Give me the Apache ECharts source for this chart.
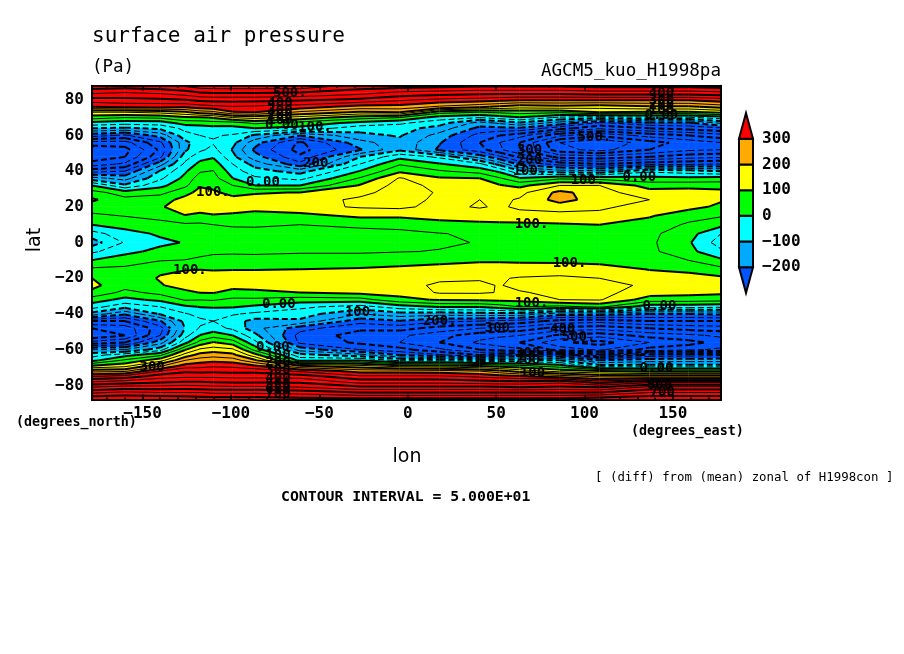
<!DOCTYPE html>
<html><head><meta charset="utf-8">
<style>html,body{margin:0;padding:0;background:#fff}#c{width:904px;height:654px}</style>
<script src="https://cdn.jsdelivr.net/npm/echarts@6/dist/echarts.min.js"></script>
</head><body><div id="c"></div>
<script>
const lons=[-178.6,-160,-140,-126,-117.5,-110,-99,-86.5,-61,-27,-4.5,18,40.7,52,63.3,86,108.5,136.7,159,177.2];
const lats=[87.86,84,80,76,73,70,67,64,60,56,52,48,44,40,36,32,28,24,20,15,10,5,0,-5,-10,-15,-20,-24,-28,-32,-36,-40,-44,-48,-52,-56,-60,-63,-66,-69,-72,-75,-78,-81,-84,-87.86];
const c00=[535,460,380,300,150,70,-15,-100,-230,-370,-440,-430,-380,-270,-130,0,70,108,75,40,0,-70,-125,
 -60,2,60,100,112,90,25,-30,-120,-300,-400,-450,-330,-150,-70,-15,100,230,350,450,550,640,750];
const c01=[530,450,385,315,150,50,-30,-110,-260,-370,-420,-400,-340,-250,-170,-90,25,65,75,52,20,-20,-45,
 -15,30,60,65,70,35,-15,-85,-190,-300,-380,-400,-300,-150,-20,60,130,240,370,470,570,660,750];
const c02=[540,460,390,315,165,60,-25,-90,-180,-260,-290,-260,-170,-95,-60,-15,35,80,95,70,30,8,-12,
 15,48,90,105,95,65,12,-50,-95,-205,-270,-250,-170,-70,40,130,240,350,430,490,570,650,750];
const c03=[560,480,400,310,190,90,20,-35,-70,-115,-110,-70,-40,-8,15,38,85,115,125,98,42,15,3,
 20,52,95,135,125,85,55,-10,-55,-85,-100,-70,-15,95,170,250,320,390,440,500,575,650,740];
const c04=[580,500,415,325,225,90,25,-25,-50,-70,-60,-20,15,45,75,95,115,135,130,85,42,30,25,
 35,60,98,135,125,102,52,2,-35,-60,-45,2,70,160,220,275,330,385,440,500,570,650,730];
const c05=[585,505,420,335,235,105,30,-20,-45,-55,-35,-5,25,52,70,88,108,135,130,95,50,38,35,
 42,65,95,135,125,103,55,5,-30,-50,-30,30,105,175,230,285,340,390,440,495,565,640,730];
const c06=[585,505,420,345,295,150,30,-20,-55,-85,-105,-85,-50,-25,0,50,85,115,125,90,52,44,42,
 45,62,98,125,115,85,40,5,-45,-75,-60,0,75,160,215,275,335,385,435,490,560,640,730];
const c07=[585,505,420,340,300,170,60,0,-110,-180,-210,-180,-120,-80,-40,0,95,120,115,85,52,45,42,
 45,60,98,125,115,90,40,-10,-60,-120,-130,-85,-35,35,120,210,305,385,435,490,560,640,730];
const c08=[590,500,410,325,240,130,30,-15,-200,-310,-320,-290,-235,-120,-65,0,102,125,135,85,50,44,42,
 47,62,100,130,135,100,25,-40,-75,-110,-230,-270,-260,-170,-80,-15,200,340,430,490,550,630,720];
const c09=[530,470,390,280,190,70,-15,-80,-115,-170,-205,-100,-50,2,55,105,135,160,155,110,55,42,40,
 45,70,105,125,135,115,30,-70,-150,-230,-290,-320,-310,-250,-130,0,160,280,360,430,510,600,720];
const c10=[530,440,360,280,200,50,-40,-80,-95,-115,-110,-15,45,90,155,170,175,170,160,110,60,42,40,
 48,80,110,135,140,120,85,-25,-120,-205,-280,-340,-350,-280,-200,-60,120,280,360,430,510,600,720];
const c11=[520,430,340,240,70,-25,-80,-120,-170,-195,-210,-60,5,55,105,135,145,140,135,115,85,48,44,
 52,85,120,145,155,155,105,5,-130,-240,-320,-380,-400,-340,-240,-60,110,270,360,430,510,600,720];
const c12=[510,420,330,210,50,-50,-170,-215,-270,-300,-280,-170,-40,30,100,125,135,150,155,120,90,58,52,
 62,95,120,145,160,155,110,5,-120,-250,-350,-430,-460,-400,-300,-90,90,250,340,420,510,600,720];
const c12b=[510,420,320,190,60,-25,-140,-215,-300,-350,-340,-240,-120,-10,55,105,138,140,142,125,90,58,52,
 62,95,118,145,147,148,112,25,-120,-260,-360,-440,-480,-420,-260,-85,75,215,325,415,505,600,720];
const c13=[510,420,310,170,70,-5,-110,-210,-330,-400,-400,-310,-215,-90,5,85,135,155,160,130,90,60,55,
 65,95,115,155,165,145,115,50,-120,-270,-370,-450,-500,-440,-230,-80,60,180,310,410,500,600,720];
const c14=[510,420,310,180,60,-60,-170,-280,-440,-550,-530,-420,-270,-130,40,150,215,220,175,130,95,75,70,
 75,90,125,160,170,165,150,35,-180,-320,-420,-510,-590,-520,-250,-100,20,130,280,430,510,600,720];
const c15=[520,430,310,170,100,-80,-260,-340,-490,-600,-570,-430,-300,-140,30,150,170,175,160,135,100,75,70,
 72,85,120,150,170,165,155,60,-180,-330,-430,-530,-620,-560,-380,-200,-85,100,240,370,500,600,740];
const c16=[520,430,310,190,90,-60,-210,-300,-430,-520,-500,-400,-270,-60,15,80,120,150,130,105,80,62,60,
 62,75,98,130,140,125,75,-30,-200,-300,-400,-480,-550,-480,-280,-170,-85,80,230,430,560,650,750];
const c17=[520,430,310,190,90,-60,-210,-280,-400,-480,-460,-370,-260,-80,15,80,125,140,115,70,42,20,6,
 14,50,85,125,135,115,75,-30,-200,-300,-380,-460,-520,-460,-270,-170,-85,80,230,430,560,650,750];
const c18=[530,440,330,220,110,-25,-140,-260,-370,-450,-450,-360,-250,-100,20,80,115,105,90,55,15,-50,-75,
 -40,10,65,110,125,110,70,-40,-190,-300,-370,-440,-480,-440,-260,-170,-85,80,230,430,560,650,750];
const columns=[c00,c01,c02,c03,c04,c05,c06,c07,c08,c09,c10,c11,c12,c12b,c13,c14,c15,c16,c17,c18];

const bandEdges=[-1e9,-200,-100,0,100,200,300,1e9];
const bandColors=['#0055ff','#00aaff','#00ffff','#00ff00','#ffff00','#ffaa00','#ff0000'];
const contourLevels=[-750,-700,-650,-600,-550,-500,-450,-400,-350,-300,-250,-200,-150,-100,-50,0,50,100,150,200,250,300,350,400,450,500,550,600,650,700,750];
const xTicks=[-150,-100,-50,0,50,100,150];
const xMinorTicks=[-170,-160,-150,-140,-130,-120,-110,-100,-90,-80,-70,-60,-50,-40,-30,-20,-10,0,10,20,30,40,50,60,70,80,90,100,110,120,130,140,150,160,170];
const yTicks=[-80,-60,-40,-20,0,20,40,60,80];
const legendTicks=[-200,-100,0,100,200,300];
const legendLow=[-300,-200,-100,0,100,200,300];
const legendHigh=[-200,-100,0,100,200,300,400];
const contourLabels=[
[-66.7,83.8,'500.'],[-72.3,78.1,'400'],[-72.3,74.2,'300'],[-72.3,71.4,'200'],[-72.3,68.6,'100'],[-71.2,65.8,'0.00'],
[-52.5,64.7,'100.'],[-49.7,44.5,'200.'],[-81.9,33.9,'0.00'],[-110.2,28.3,'100.'],
[143.5,83.8,'400'],[143.5,79.8,'300'],[143.5,77,'200'],[143.5,74.2,'100'],[143.5,71.4,'0.00'],
[105.6,59.1,'500.'],[68.9,51.8,'300'],[68.9,46.2,'200'],[68.9,40,'100.'],[101.7,35,'100.'],[131,36.7,'0.00'],
[70,10.4,'100.'],[91.5,-11.5,'100.'],[-123.2,-15.4,'100.'],[-72.9,-34.5,'0.00'],[-26,-38.9,'100.'],
[-76.3,-58.5,'0.00'],[-73.4,-63,'100'],[-73.4,-67,'200'],[-73.4,-71.4,'300'],[-73.4,-75.9,'400'],[-73.4,-79.3,'500'],[-73.4,-82,'600'],[-73.4,-84.9,'700'],
[-144.6,-69.7,'300'],[70,-33.9,'100.'],[142.4,-35.6,'0.00'],[18.1,-44,'200.'],[53.1,-47.9,'300.'],[87.6,-48.5,'400'],[96.6,-52.9,'500.'],
[67.8,-61.9,'300'],[67.8,-65.8,'200'],[70.6,-73.1,'100'],[140.7,-70.3,'0.00'],[142.4,-79.8,'600'],[144,-83.8,'700']];

const MONO="'DejaVu Sans Mono'";
const cells=[];
for(let i=0;i<lons.length-1;i++)for(let j=0;j<lats.length-1;j++)cells.push([lons[i],lats[j],i,j]);
function corners(i,j){return [[lons[i],lats[j],columns[i][j]],[lons[i+1],lats[j],columns[i+1][j]],[lons[i+1],lats[j+1],columns[i+1][j+1]],[lons[i],lats[j+1],columns[i][j+1]]];}
function cross(a,b,l){const t=(l-a[2])/(b[2]-a[2]);return [a[0]+t*(b[0]-a[0]),a[1]+t*(b[1]-a[1]),l];}
function clip(poly,l,above){const out=[];const inside=p=>above?p[2]>=l:p[2]<=l;
 for(let k=0;k<poly.length;k++){const a=poly[k],b=poly[(k+1)%poly.length];
  if(inside(a))out.push(a);
  if(inside(a)!==inside(b))out.push(cross(a,b,l));}
 return out;}
function renderFill(params,api){const c=cells[params.dataIndex],q=corners(c[2],c[3]),ch=[];
 for(let b=0;b<bandColors.length;b++){let p=clip(q,bandEdges[b],true);if(p.length>2)p=clip(p,bandEdges[b+1],false);
  if(p.length>2)ch.push({type:'polygon',shape:{points:p.map(v=>api.coord([v[0],v[1]]))},style:{fill:bandColors[b],stroke:bandColors[b],lineWidth:0.6}});}
 return {type:'group',children:ch};}
function renderLines(params,api){const c=cells[params.dataIndex],q=corners(c[2],c[3]),ch=[];
 for(const lv of contourLevels){const l=lv+0.01,pts=[];
  for(let k=0;k<4;k++){const a=q[k],b=q[(k+1)%4];if((a[2]<l)!==(b[2]<l))pts.push(cross(a,b,l));}
  if(pts.length<2)continue;
  const segs=pts.length===2?[[pts[0],pts[1]]]:[[pts[0],pts[1]],[pts[2],pts[3]]];
  for(const s of segs){const A=api.coord([s[0][0],s[0][1]]),B=api.coord([s[1][0],s[1][1]]);const L=A[0]<=B[0]?[A,B]:[B,A];
   ch.push({type:'line',shape:{x1:L[0][0],y1:L[0][1],x2:L[1][0],y2:L[1][1]},
    style:{stroke:'#000',fill:null,lineWidth:lv%100===0?2:1,lineDash:lv<0?[6,3]:null}});}}
 return {type:'group',children:ch};}
function renderLabel(params,api){const p=api.coord([api.value(0),api.value(1)]),d=contourLabels[params.dataIndex];
 return {type:'text',style:{text:d[2],x:p[0],y:p[1],fill:'#000',font:'bold 14px '+MONO,align:'center',verticalAlign:'middle'}};}
function renderLegend(params,api){const i=params.dataIndex,lo=legendLow[i],hi=legendHigh[i];
 let pts;
 if(i===0)pts=[[0,hi],[1,hi],[0.5,lo]];
 else if(i===legendLow.length-1)pts=[[0,lo],[1,lo],[0.5,hi]];
 else pts=[[0,lo],[1,lo],[1,hi],[0,hi]];
 return {type:'polygon',shape:{points:pts.map(v=>api.coord(v))},style:{fill:bandColors[i],stroke:'#000',lineWidth:2}};}
const minus=v=>String(v).replace('-','\u2212');
function xAxis(pos,ticks,len,labels){return {type:'value',gridIndex:0,position:pos,min:-178.6,max:177.2,z:6,
 axisLine:{show:true,onZero:false,lineStyle:{color:'#000',width:2}},splitLine:{show:false},
 axisTick:{show:true,inside:true,length:len,customValues:ticks,lineStyle:{color:'#000',width:1.5}},
 axisLabel:labels?{show:true,customValues:xTicks,margin:6,color:'#000',fontFamily:MONO,fontWeight:'bold',fontSize:16,formatter:minus}:{show:false}};}
function txt(t,x,y,size,opt){return Object.assign({type:'text',z:10,x:x,y:y,style:Object.assign({text:t,fill:'#000',font:size+'px '+MONO,textAlign:'left',textVerticalAlign:'middle'},opt||{})});}
const chart=echarts.init(document.getElementById('c'),null,{renderer:'canvas',width:904,height:654});
chart.setOption({animation:false,backgroundColor:'#fff',
 grid:[{left:92,top:85.7,width:629,height:313.7},{left:739,top:113,width:14,height:180}],
 xAxis:[xAxis('bottom',xTicks,5,true),xAxis('top',xTicks,5,false),xAxis('bottom',xMinorTicks,2,false),xAxis('top',xMinorTicks,2,false),
  {type:'value',gridIndex:1,min:0,max:1,show:false}],
 yAxis:[{type:'value',gridIndex:0,position:'left',min:-87.86,max:87.86,z:6,
   axisLine:{show:true,onZero:false,lineStyle:{color:'#000',width:2}},axisTick:{show:false},splitLine:{show:false},
   axisLabel:{customValues:yTicks,margin:8,color:'#000',fontFamily:MONO,fontWeight:'bold',fontSize:16,formatter:minus}},
  {type:'value',gridIndex:0,position:'right',min:-87.86,max:87.86,z:6,
   axisLine:{show:true,onZero:false,lineStyle:{color:'#000',width:2}},axisTick:{show:false},splitLine:{show:false},axisLabel:{show:false}},
  {type:'value',gridIndex:1,position:'right',min:-300,max:400,
   axisLine:{show:false},axisTick:{show:false},splitLine:{show:false},
   axisLabel:{customValues:legendTicks,margin:9,color:'#000',fontFamily:MONO,fontWeight:'bold',fontSize:16,formatter:minus}}],
 series:[
  {type:'custom',xAxisIndex:0,yAxisIndex:0,z:2,silent:true,data:cells,renderItem:renderFill},
  {type:'custom',xAxisIndex:0,yAxisIndex:0,z:3,silent:true,data:cells,renderItem:renderLines},
  {type:'custom',xAxisIndex:0,yAxisIndex:0,z:4,silent:true,data:contourLabels.map(d=>[d[0],d[1]]),renderItem:renderLabel},
  {type:'custom',xAxisIndex:4,yAxisIndex:2,z:4,silent:true,data:legendLow.map((v,i)=>[0.5,(v+legendHigh[i])/2]),renderItem:renderLegend}],
 graphic:{elements:[
  txt('surface air pressure',92,37,21),
  txt('(Pa)',92,67,17.5),
  txt('AGCM5_kuo_H1998pa',721,71,17.6,{textAlign:'right'}),
  txt('(degrees_north)',16,423,13.4,{font:'bold 13.4px '+MONO}),
  txt('(degrees_east)',631,432,13.4,{font:'bold 13.4px '+MONO}),
  txt('[ (diff) from (mean) zonal of H1998con ]',595,478,12.4),
  txt('CONTOUR INTERVAL = 5.000E+01',281,497,14.8,{font:'bold 14.8px '+MONO}),
  {type:'text',z:10,x:407,y:457,style:{text:'lon',fill:'#000',font:"19px 'DejaVu Sans'",textAlign:'center',textVerticalAlign:'middle'}},
  {type:'text',z:10,x:35,y:240,rotation:Math.PI/2,style:{text:'lat',fill:'#000',font:"19px 'DejaVu Sans'",textAlign:'center',textVerticalAlign:'middle'}}
 ]}
});
</script></body></html>
